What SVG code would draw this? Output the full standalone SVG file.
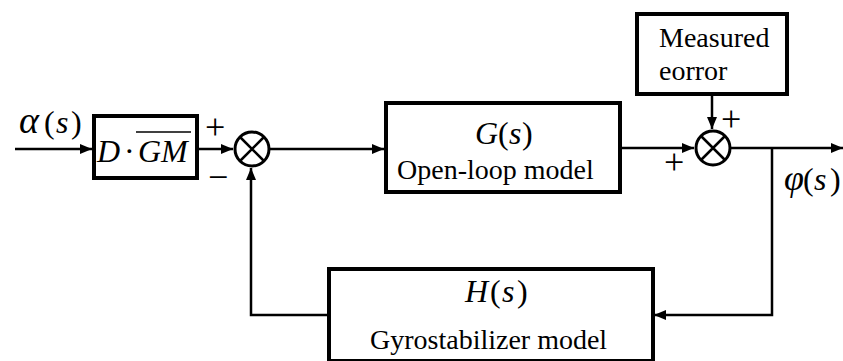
<svg xmlns="http://www.w3.org/2000/svg" width="843" height="361" viewBox="0 0 843 361" font-family="'Liberation Serif', 'Times New Roman', serif">
<style>
.box{fill:#fff;stroke:#000;stroke-width:4}
.ln{fill:none;stroke:#000;stroke-width:2.5}
.sum{fill:#fff;stroke:#000;stroke-width:3}
text{font-family:'Liberation Serif','Times New Roman',serif;fill:#000}
.t{font-size:28px}
.m{font-size:32px}
.p{font-size:36px}
.i{font-style:italic}
</style>
<defs>
<marker id="ar" viewBox="0 0 12 10" refX="12" refY="5" markerWidth="12" markerHeight="10" markerUnits="userSpaceOnUse" orient="auto">
<path d="M0,0 L12,5 L0,10 z" fill="#000"/>
</marker>
</defs>
<rect width="843" height="361" fill="#fff"/>
<g id="connectors">
<path class="ln" d="M15,149 H92" marker-end="url(#ar)"/>
<path class="ln" d="M198,149 H233" marker-end="url(#ar)"/>
<path class="ln" d="M270,149 H384" marker-end="url(#ar)"/>
<path class="ln" d="M621,148 H694" marker-end="url(#ar)"/>
<path class="ln" d="M712,96 V129" marker-end="url(#ar)"/>
<path class="ln" d="M731,148 H843" marker-end="url(#ar)"/>
<path class="ln" d="M772,148 V315 H654" marker-end="url(#ar)"/>
<path class="ln" d="M327,315 H251 V168" marker-end="url(#ar)"/>
</g>
<g id="input-label"><text class="m" y="133"><tspan class="i" x="19" font-size="38">α</tspan><tspan x="44">(</tspan><tspan class="i" x="56">s</tspan><tspan x="71">)</tspan></text></g>
<g id="gain">
<rect class="box" x="94" y="116" width="103" height="62"/>
<text class="m" y="162"><tspan class="i" x="97">D</tspan><tspan x="124">·</tspan><tspan class="i" x="138">GM</tspan></text>
<line x1="136" y1="132" x2="191" y2="132" stroke="#000" stroke-width="1.6"/>
</g>
<g id="sum1">
<circle class="sum" cx="252" cy="149" r="17"/>
<path class="ln" d="M240,137 L264,161 M264,137 L240,161"/>
<text class="p" x="205" y="139">+</text>
<text class="p" x="208" y="189">−</text>
</g>
<g id="G">
<rect class="box" x="386" y="103" width="234" height="89"/>
<text class="m" y="144"><tspan class="i" x="475">G</tspan><tspan x="498">(</tspan><tspan class="i" x="509">s</tspan><tspan x="522">)</tspan></text>
<text class="t" x="397" y="179">Open-loop model</text>
</g>
<g id="error">
<rect class="box" x="637" y="14" width="150" height="80"/>
<text class="t" x="659" y="47">Measured</text>
<text class="t" x="659" y="80">eorror</text>
</g>
<g id="sum2">
<circle class="sum" cx="713" cy="148" r="17"/>
<path class="ln" d="M701,136 L725,160 M725,136 L701,160"/>
<text class="p" x="721" y="131">+</text>
<text class="p" x="664" y="174">+</text>
</g>
<g id="output-label"><text class="m" y="190"><tspan class="i" x="784" font-size="36">φ</tspan><tspan x="803">(</tspan><tspan class="i" x="814">s</tspan><tspan x="830">)</tspan></text></g>
<g id="H">
<rect class="box" x="329" y="269" width="324" height="92"/>
<text class="m" y="302"><tspan class="i" x="465">H</tspan><tspan x="490">(</tspan><tspan class="i" x="502">s</tspan><tspan x="517">)</tspan></text>
<text class="t" x="370" y="349">Gyrostabilizer model</text>
</g>
</svg>
